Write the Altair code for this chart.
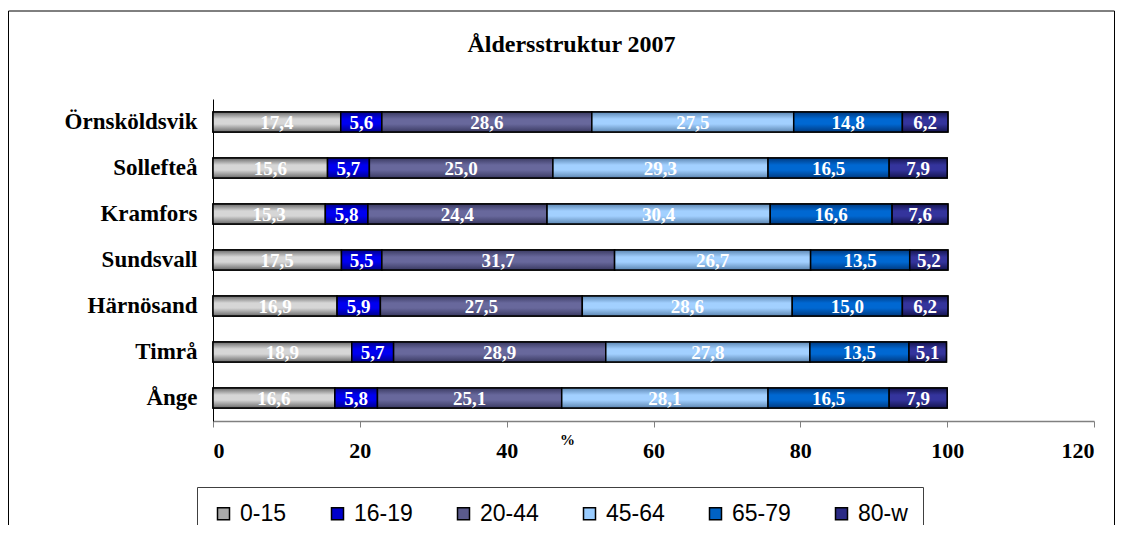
import altair as alt
import pandas as pd

cities = ["Örnsköldsvik", "Sollefteå", "Kramfors", "Sundsvall", "Härnösand", "Timrå", "Ånge"]
groups = ["0-15", "16-19", "20-44", "45-64", "65-79", "80-w"]

g_0_15 = [17.4, 15.6, 15.3, 17.5, 16.9, 18.9, 16.6]
g_16_19 = [5.6, 5.7, 5.8, 5.5, 5.9, 5.7, 5.8]
g_20_44 = [28.6, 25.0, 24.4, 31.7, 27.5, 28.9, 25.1]
g_45_64 = [27.5, 29.3, 30.4, 26.7, 28.6, 27.8, 28.1]
g_65_79 = [14.8, 16.5, 16.6, 13.5, 15.0, 13.5, 16.5]
g_80_w = [6.2, 7.9, 7.6, 5.2, 6.2, 5.1, 7.9]

x_ticks = [0, 20, 40, 60, 80, 100, 120]

legend_colors = ["#a8a8a8", "#0000cc", "#5a5a8c", "#99ccff", "#0062c4", "#2a2a85"]
# (edge, light) pairs for the shaded bars
shade = [
    ("#6a6a6a", "#d6d6d6"),
    ("#00008c", "#0000f0"),
    ("#3a3a62", "#68689c"),
    ("#5c86b2", "#a2d0ff"),
    ("#003a80", "#0068d2"),
    ("#14144e", "#34349c"),
]

series = [g_0_15, g_16_19, g_20_44, g_45_64, g_65_79, g_80_w]
rows = []
for gi, (g, vals) in enumerate(zip(groups, series)):
    for c, v in zip(cities, vals):
        rows.append({"city": c, "group": g, "order": gi, "value": v})
df = pd.DataFrame(rows)

base = alt.Chart(df).transform_window(
    cum="sum(value)",
    sort=[alt.SortField("order")],
    groupby=["city"],
    frame=[None, 0],
).transform_calculate(
    start="datum.cum - datum.value",
    mid="datum.cum - datum.value / 2",
    label="replace(format(datum.value, '.1f'), '.', ',')",
)

x_scale = alt.Scale(domain=[0, 120], nice=False, zero=True)
x_axis = alt.Axis(
    values=x_ticks,
    format="d",
    title="%",
    grid=False,
    domainColor="#808080",
    domainWidth=1.5,
    tickColor="#808080",
    tickSize=6,
    labelFont="Liberation Serif",
    labelFontSize=22,
    labelFontWeight="bold",
    labelColor="black",
    labelPadding=13,
    titleFont="Liberation Serif",
    titleFontSize=15,
    titleFontWeight="bold",
    titleColor="black",
    titleX=354,
    titleY=18,
    titleBaseline="middle",
    titleAlign="center",
    titleAngle=0,
)
y_axis = alt.Axis(
    title=None,
    ticks=False,
    tickSize=0,
    domainColor="black",
    domainWidth=1,
    labelFont="Liberation Serif",
    labelFontSize=23,
    labelFontWeight="bold",
    labelColor="black",
    labelPadding=16,
)
y_enc = alt.Y(
    "city:N",
    sort=cities,
    scale=alt.Scale(paddingInner=0.565, paddingOuter=0.2825),
    axis=y_axis,
)
x_enc = alt.X("start:Q", scale=x_scale, axis=x_axis)
x2_enc = alt.X2("cum:Q")

legend_layer = base.mark_bar(stroke="black", strokeWidth=1.5).encode(
    x=x_enc,
    x2=x2_enc,
    y=y_enc,
    color=alt.Color(
        "group:N",
        scale=alt.Scale(domain=groups, range=legend_colors),
        legend=alt.Legend(
            orient="none",
            legendX=-16,
            legendY=388,
            direction="horizontal",
            title=None,
            symbolType="square",
            symbolSize=144,
            symbolStrokeColor="black",
            symbolStrokeWidth=1.5,
            symbolOpacity=1,
            labelFont="Liberation Sans",
            labelFontSize=23,
            labelColor="black",
            labelOffset=5,
            columnPadding=39,
            padding=15,
            strokeColor="#404040",
            fillColor="white",
        ),
    ),
)

layers = [legend_layer]
for g, (dark, light) in zip(groups, shade):
    grad = alt.Gradient(
        gradient="linear",
        x1=0, x2=0, y1=0, y2=1,
        stops=[
            alt.GradientStop(color=dark, offset=0),
            alt.GradientStop(color=light, offset=0.35),
            alt.GradientStop(color=light, offset=0.6),
            alt.GradientStop(color=dark, offset=1),
        ],
    )
    layers.append(
        base.transform_filter(alt.datum.group == g)
        .mark_bar(fill=grad, stroke="black", strokeWidth=1.5)
        .encode(x=x_enc, x2=x2_enc, y=y_enc)
    )

text_layer = base.mark_text(
    font="Liberation Serif",
    fontSize=19,
    fontWeight="bold",
    color="white",
    baseline="middle",
    align="center",
    dy=1,
).encode(
    x=alt.X("mid:Q", scale=x_scale, axis=x_axis),
    y=y_enc,
    text="label:N",
)
layers.append(text_layer)

frame = alt.Chart(alt.Data(values=[{"f": 1}])).mark_rect(
    fillOpacity=0, stroke="black", strokeWidth=1
).encode(
    x=alt.value(-204.5), x2=alt.value(901.5), y=alt.value(-88), y2=alt.value(700)
)
layers.append(frame)

chart = alt.layer(*layers).properties(
    width=881,
    height=322,
    padding={"left": 205, "top": 91, "right": 21, "bottom": 104},
    autosize=alt.AutoSizeParams(type="none"),
    background="white",
    title=alt.TitleParams(
        "Åldersstruktur 2007",
        font="Liberation Serif",
        fontSize=24,
        fontWeight="bold",
        color="black",
        anchor="middle",
        dx=-82,
        dy=46,
        offset=0,
    ),
).configure_view(strokeWidth=0)

chart.save("out.html", embed_options={"renderer": "svg", "actions": False})
